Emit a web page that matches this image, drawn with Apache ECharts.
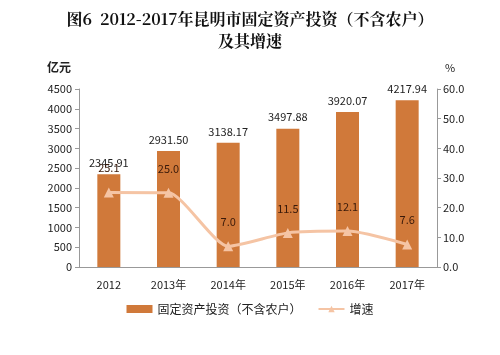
<!DOCTYPE html>
<html><head><meta charset="utf-8">
<script src="https://cdn.jsdelivr.net/npm/echarts@6/dist/echarts.min.js"></script>
<style>html,body{margin:0;padding:0;background:#fff}#c{width:500px;height:355px}</style>
</head><body><div id="c"></div>
<script>
const categories = ['2012','2013年','2014年','2015年','2016年','2017年'];
const investment = [2345.91, 2931.50, 3138.17, 3497.88, 3920.07, 4217.94];
const growth = [25.1, 25.0, 7.0, 11.5, 12.1, 7.6];

const chart = echarts.init(document.getElementById('c'));
const font = '"Noto Sans CJK SC", "DejaVu Sans", sans-serif';
chart.setOption({
  animation:false,
  textStyle:{fontFamily:font},
  title:{
    text:'图6  2012-2017年昆明市固定资产投资（不含农户）\n及其增速',
    left:'center', top:3,
    textStyle:{fontSize:16, fontWeight:'bold', color:'#111', lineHeight:22, fontFamily:'"Noto Serif CJK SC","Noto Sans CJK SC",serif'}
  },
  grid:{left:79, right:63, top:89, bottom:88},
  legend:{
    bottom:35, left:'center', itemGap:16, itemWidth:26, itemHeight:8,
    textStyle:{fontSize:12, color:'#222'},
    data:[{name:'固定资产投资（不含农户）', icon:'rect'}, {name:'增速'}]
  },
  xAxis:{
    type:'category', data:categories,
    axisLine:{lineStyle:{color:'#999'}},
    axisTick:{show:false},
    axisLabel:{color:'#222', fontSize:11, margin:12}
  },
  yAxis:[{
    type:'value', min:0, max:4500, interval:500,
    name:'亿元', nameLocation:'end', nameGap:16,
    nameTextStyle:{fontWeight:'bold', color:'#222', fontSize:12, align:'right', padding:[0,8,0,0]},
    axisLine:{show:true, lineStyle:{color:'#999'}},
    axisTick:{show:true, length:4, lineStyle:{color:'#999'}},
    axisLabel:{color:'#222', fontSize:11, margin:7, formatter:v=>String(v)},
    splitLine:{show:false}
  },{
    type:'value', min:0, max:60, interval:10,
    name:'%', nameLocation:'end', nameGap:16,
    nameTextStyle:{color:'#222', fontSize:11, align:'left', padding:[0,0,0,8]},
    axisLine:{show:true, lineStyle:{color:'#999'}},
    axisTick:{show:true, length:4, lineStyle:{color:'#999'}},
    axisLabel:{color:'#222', fontSize:11, margin:6, formatter:v=>v.toFixed(1)},
    splitLine:{show:false}
  }],
  series:[{
    name:'固定资产投资（不含农户）', type:'bar', data:investment, barWidth:23,
    itemStyle:{color:'#D0793A'},
    label:{show:true, position:'top', color:'#222', fontSize:11, distance:6, formatter:p=>p.value.toFixed(2)}
  },{
    name:'增速', type:'line', yAxisIndex:1, data:growth,
    symbol:'triangle', symbolSize:10, smooth:0.2,
    lineStyle:{color:'#F5C4A4', width:3},
    itemStyle:{color:'#F5C4A4'},
    label:{show:true, position:'top', color:'#3a1a0a', fontSize:11, distance:14, formatter:p=>p.value.toFixed(1)}
  }]
});
</script></body></html>
